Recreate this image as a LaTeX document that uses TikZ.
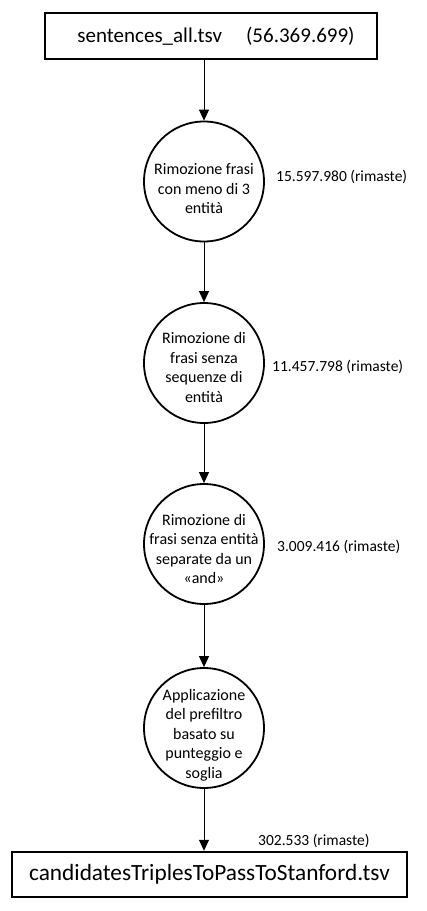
\documentclass[tikz,border=0pt]{standalone}
\usepackage{fontspec}
\setmainfont{Carlito}
\usetikzlibrary{arrows.meta}

\tikzset{
    filebox/.style={draw, line width=2.5pt, inner sep=0pt},
    stage/.style={draw, circle, line width=1.8pt, minimum size=120pt, inner sep=0pt},
    stagetext/.style={align=center, font=\fontsize{16}{19.5}\selectfont},
    count/.style={anchor=west, inner sep=0pt, font=\fontsize{15.5}{18}\selectfont},
    flow/.style={-{Triangle[width=10pt,length=11pt]}, line width=0.9pt}
}

\begin{document}
\begin{tikzpicture}[x=1pt,y=-1pt]
                \useasboundingbox (0,0) rectangle (427,911);

                % input and output files
                \node[filebox, minimum width=332pt, minimum height=46pt, font=\fontsize{21}{24}\selectfont] (src) at (211,36)
                    {\hspace{10pt}sentences\_all.tsv\hspace{24pt}(56.369.699)};
                \node[filebox, minimum width=395pt, minimum height=45pt, font=\fontsize{23.3}{26}\selectfont] (dst) at (209.5,874.5)
                    {candidatesTriplesToPassToStanford.tsv\hspace{12pt}};

                % filtering steps
                \node[stage] (f1) at (204,181.5) {};
                \node[stage] (f2) at (204,363) {};
                \node[stage] (f3) at (204,544) {};
                \node[stage] (f4) at (204,728) {};

                \node[stagetext] (t1) at (204,189) {Rimozione frasi\\con meno di 3\\entità};
                \node[stagetext] (t2) at (204,367.5) {Rimozione di\\frasi senza\\sequenze di\\entità};
                \node[stagetext] (t3) at (204,549) {Rimozione di\\frasi senza entità\\separate da un\\«and»};
                \node[stagetext] (t4) at (204,735) {Applicazione\\del prefiltro\\basato su\\punteggio e\\soglia};

                % remaining sentences
                \node[count] (n1) at (276,177) {15.597.980 (rimaste)};
                \node[count] (n2) at (272,367) {11.457.798 (rimaste)};
                \node[count] (n3) at (277,547) {3.009.416 (rimaste)};
                \node[count] (n4) at (258,841) {302.533 (rimaste)};

                \draw[flow] (src.south -| f1) -- (f1);
                \draw[flow] (f1) -- (f2);
                \draw[flow] (f2) -- (f3);
                \draw[flow] (f3) -- (f4);
                \draw[flow] (f4) -- (f4 |- dst.north);
            \end{tikzpicture}
\end{document}
